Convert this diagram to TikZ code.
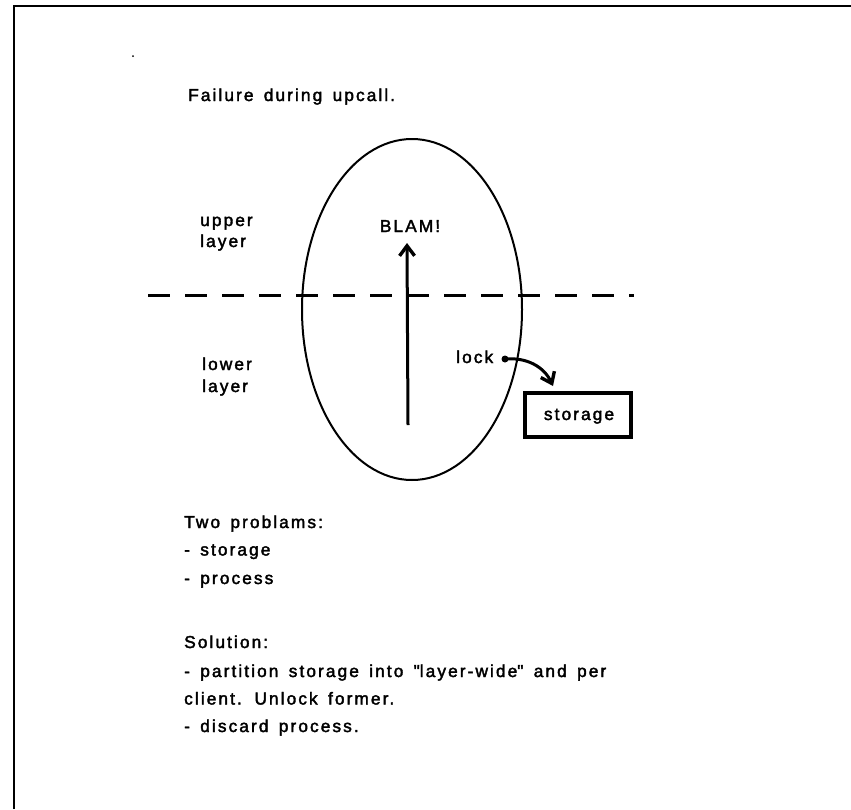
\documentclass[tikz,border=0pt]{standalone}
\usepackage{fontspec}
\setmainfont{Liberation Sans}[LetterSpace=12,FakeBold=2.2,WordSpace=1.5]
\usetikzlibrary{arrows.meta,shapes.geometric}
\begin{document}
\begin{tikzpicture}[x=1pt,y=-1pt,
  txt/.style={anchor=base west, inner sep=0pt, font=\fontsize{17.3}{20}\selectfont},
  lbl/.style={anchor=base, inner sep=0pt, font=\fontsize{17.3}{20}\selectfont},
  thickline/.style={line width=3pt},
  barb/.style={-{Straight Barb[length=10pt,width=15pt,line width=3.4pt]}}]
\useasboundingbox (0,0) rectangle (851,809);
\fill[white] (0,0) rectangle (851,809);
% frame
\draw[line width=2.2pt] (14,809) -- (14,6) -- (851,6);
% speck
\fill (133,56) circle (1pt);
% title
\node[txt] (title) at (188,101) {Failure during upcall.};
% ellipse
\node[draw, line width=2pt, ellipse, minimum width=220pt, minimum height=341pt, inner sep=0pt] (oval) at (412,309.5) {};
% dashed layer line
\coordinate (dl) at (148,295);
\coordinate (dr) at (634,295);
\draw[thickline, dash pattern=on 22pt off 15pt] (dl) -- (dr);
% layer labels
\node[txt] (up1) at (200,226) {upper};
\node[txt] (up2) at (200,247) {layer};
\node[txt] (lo1) at (202,370) {lower};
\node[txt] (lo2) at (202,392) {layer};
% BLAM
\node[lbl] (blam) at (410,232) {BLAM!};
\coordinate (upstart) at (408,425);
\coordinate (uptip) at (407,243);
\draw[thickline, barb] (upstart) -- (uptip);
% lock
\node[txt] (lock) at (456,363) {lock};
\fill (505,359) circle (3.5pt) coordinate (lockdot);
% storage box
\node[draw, line width=4pt, minimum width=106pt, minimum height=44pt, inner sep=0pt] (storage) at (578,414.5) {};
\node[lbl] (storagetxt) at (579,420) {storage};
\coordinate (locktip) at (553,386);
\draw[thickline, barb] (lockdot) to[out=5, in=115] (locktip);
% notes
\node[txt] (n1) at (184,528) {Two problams:};
\node[txt] (n2) at (184,555.5) {- storage};
\node[txt] (n3) at (184,584) {- process};
\node[txt] (n4) at (184,648) {Solution:};
\node[txt] (n5) at (184,677) {- partition storage into \textquotedbl layer-wide\textquotedbl{} and per};
\node[txt] (n6) at (184,704.5) {client. Unlock former.};
\node[txt] (n7) at (184,732) {- discard process.};
\end{tikzpicture}
\end{document}
